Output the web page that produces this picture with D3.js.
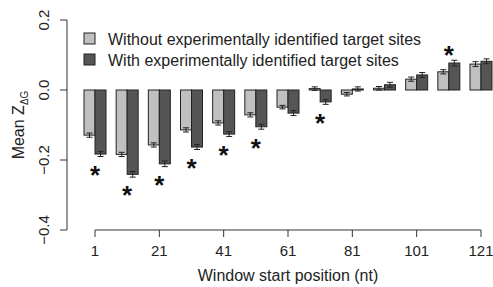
<!DOCTYPE html>
<html>
<head>
<meta charset="utf-8">
<script src="https://cdn.jsdelivr.net/npm/d3@7"></script>
<style>
  body { margin: 0; background: #fff; }
  svg { display: block; font-family: "Liberation Sans", Arial, Helvetica, sans-serif; }
</style>
</head>
<body>
<div id="chart"></div>
<script>
// window start positions (nt)
const positions = [1, 11, 21, 31, 41, 51, 61, 71, 81, 91, 101, 111, 121];
// mean Z_dG without / with experimentally identified target sites
const withoutSites = [-0.129, -0.184, -0.157, -0.114, -0.094, -0.071, -0.049, 0.004, -0.012, 0.005, 0.031, 0.052, 0.074];
const withSites    = [-0.183, -0.241, -0.211, -0.163, -0.126, -0.105, -0.066, -0.034, 0.003, 0.015, 0.043, 0.077, 0.082];
const withoutErr   = [0.006, 0.006, 0.006, 0.006, 0.006, 0.006, 0.005, 0.005, 0.005, 0.005, 0.006, 0.006, 0.007];
const withErr      = [0.007, 0.008, 0.008, 0.007, 0.007, 0.007, 0.007, 0.007, 0.006, 0.007, 0.007, 0.008, 0.007];
const significant  = [1, 11, 21, 31, 41, 51, 71, 111];
const yTicks = [0.2, 0.0, -0.2, -0.4];
const xTicks = [1, 21, 41, 61, 81, 101, 121];
const seriesNames = ["Without experimentally identified target sites", "With experimentally identified target sites"];
const seriesColors = ["#c0c0c0", "#555555"];

const width = 493, height = 287;
const svg = d3.select("#chart").append("svg")
    .attr("width", width)
    .attr("height", height);

const x = d3.scaleLinear().domain([1, 121]).range([95, 481]);
const y = d3.scaleLinear().domain([-0.4, 0.2]).range([230, 20]);
const barW = 11;
const fs = 16;

const data = positions.map((p, i) => ({
    pos: p,
    vals: [
        { s: 0, v: withoutSites[i], e: withoutErr[i] },
        { s: 1, v: withSites[i], e: withErr[i] }
    ]
}));

const groups = svg.selectAll("g.grp")
    .data(data)
    .join("g")
    .attr("class", "grp");

const bars = groups.selectAll("g.bar")
    .data(d => d.vals.map(v => ({ ...v, pos: d.pos })))
    .join("g")
    .attr("class", "bar");

bars.append("rect")
    .attr("x", d => x(d.pos) - barW + d.s * barW)
    .attr("y", d => y(Math.max(0, d.v)))
    .attr("width", barW)
    .attr("height", d => Math.abs(y(d.v) - y(0)))
    .attr("fill", d => seriesColors[d.s])
    .attr("stroke", "#222")
    .attr("stroke-width", 1);

// error bars
bars.each(function(d) {
    const g = d3.select(this);
    const cx = x(d.pos) - barW / 2 + d.s * barW;
    const y1 = y(d.v - d.e), y2 = y(d.v + d.e);
    g.append("line").attr("x1", cx).attr("x2", cx).attr("y1", y1).attr("y2", y2);
    g.append("line").attr("x1", cx - 3).attr("x2", cx + 3).attr("y1", y1).attr("y2", y1);
    g.append("line").attr("x1", cx - 3).attr("x2", cx + 3).attr("y1", y2).attr("y2", y2);
    g.selectAll("line").attr("stroke", "#222").attr("stroke-width", 1);
});

// significance stars
const starFs = 26;
svg.selectAll("text.star")
    .data(data.filter(d => significant.includes(d.pos)))
    .join("text")
    .attr("class", "star")
    .attr("x", d => x(d.pos))
    .attr("y", d => {
        const lo = d3.min(d.vals, v => v.v - v.e);
        const hi = d3.max(d.vals, v => v.v + v.e);
        const c = hi > 0.03 ? y(hi) - 11 : y(lo) + 13;
        return c + 0.55 * starFs;
    })
    .attr("text-anchor", "middle")
    .attr("font-size", starFs)
    .attr("font-weight", "bold")
    .attr("fill", "#111")
    .text("*");

// y axis
const yAxis = svg.append("g").attr("transform", "translate(67,0)");
yAxis.append("line").attr("x1", 0).attr("x2", 0).attr("y1", y(0.2)).attr("y2", y(-0.4)).attr("stroke", "#333");
yAxis.selectAll("line.tk").data(yTicks).join("line").attr("class", "tk")
    .attr("x1", -7).attr("x2", 0).attr("y1", d => y(d)).attr("y2", d => y(d)).attr("stroke", "#333");
yAxis.selectAll("text").data(yTicks).join("text")
    .attr("transform", d => `translate(-18,${y(d)}) rotate(-90)`)
    .attr("text-anchor", "middle")
    .attr("font-size", 15)
    .attr("fill", "#222")
    .text(d => d3.format(".1f")(d).replace("-", "\u2212"));

// x axis
const xAxis = svg.append("g").attr("transform", "translate(0,230)");
xAxis.append("line").attr("x1", x(1)).attr("x2", x(121)).attr("y1", 0).attr("y2", 0).attr("stroke", "#333");
xAxis.selectAll("line.tk").data(xTicks).join("line").attr("class", "tk")
    .attr("x1", d => x(d)).attr("x2", d => x(d)).attr("y1", 0).attr("y2", 7).attr("stroke", "#333");
xAxis.selectAll("text").data(xTicks).join("text")
    .attr("x", d => x(d)).attr("y", 26)
    .attr("text-anchor", "middle")
    .attr("font-size", 15)
    .attr("fill", "#222")
    .text(d => d);

// axis titles
svg.append("text")
    .attr("x", 288).attr("y", 281)
    .attr("text-anchor", "middle")
    .attr("font-size", fs)
    .attr("fill", "#222")
    .text("Window start position (nt)");

const yt = svg.append("text")
    .attr("transform", "translate(24,125) rotate(-90)")
    .attr("text-anchor", "middle")
    .attr("font-size", fs)
    .attr("fill", "#222");
yt.append("tspan").text("Mean Z");
yt.append("tspan").attr("font-size", 10).attr("dy", 4).text("\u0394G");

// legend
const legend = svg.selectAll("g.leg")
    .data(seriesNames)
    .join("g")
    .attr("class", "leg")
    .attr("transform", (d, i) => `translate(84,${33 + i * 21})`);
legend.append("rect")
    .attr("width", 11).attr("height", 11)
    .attr("fill", (d, i) => seriesColors[i])
    .attr("stroke", "#222");
legend.append("text")
    .attr("x", 24).attr("y", 12)
    .attr("font-size", fs)
    .attr("fill", "#222")
    .text(d => d);
</script>
</body>
</html>
